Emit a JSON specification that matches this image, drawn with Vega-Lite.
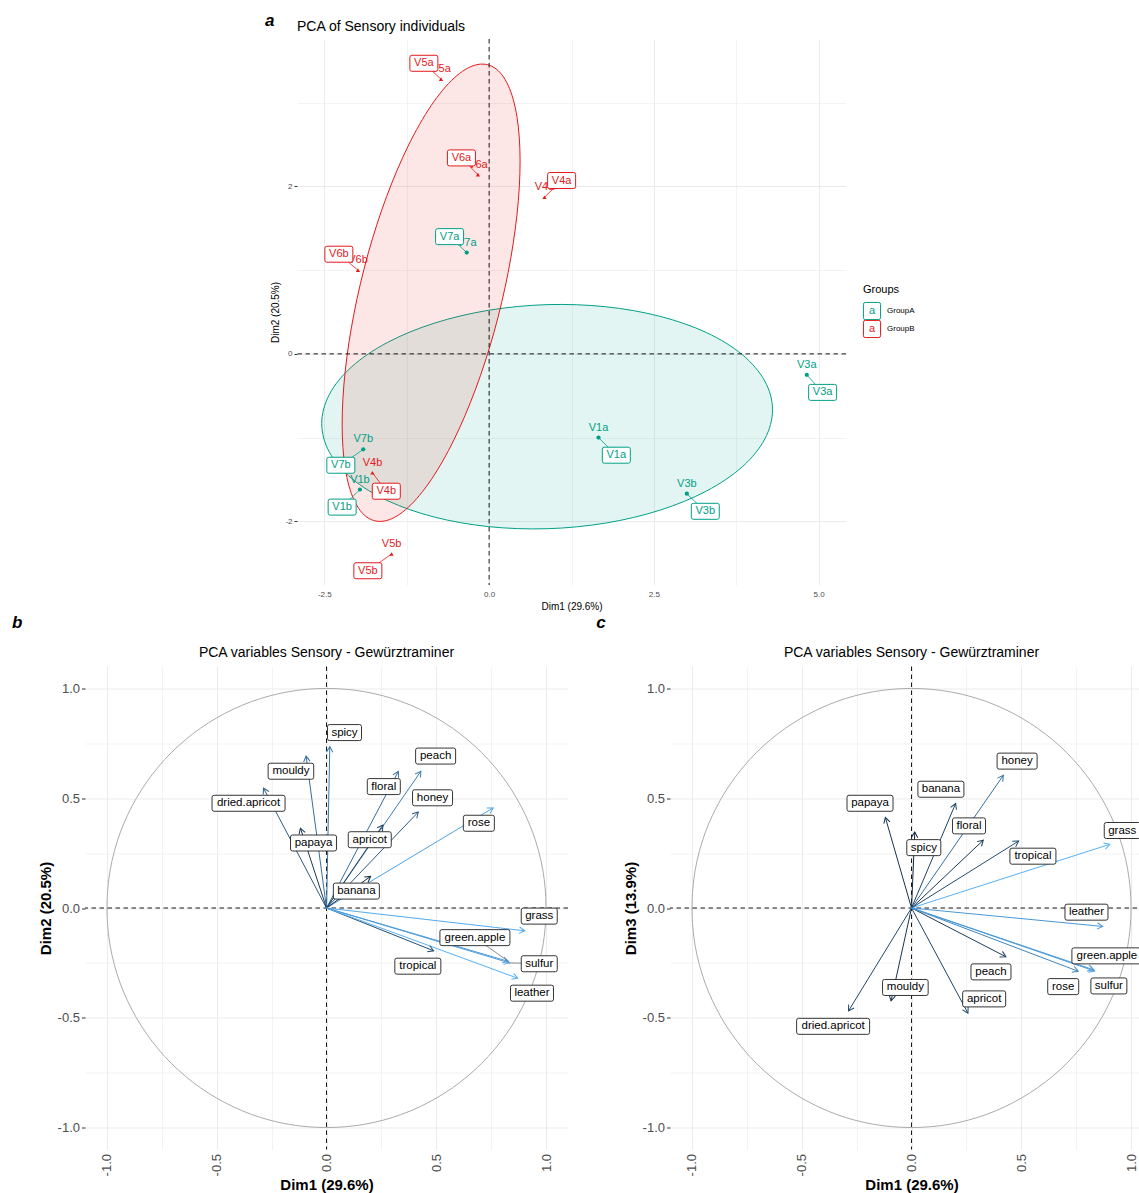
{
  "$schema": "https://vega.github.io/schema/vega-lite/v6.json",
  "background": "white",
  "padding": {"left": 12, "top": 11, "right": 0, "bottom": 0},
  "config": {
    "font": "Liberation Sans",
    "view": {"stroke": null},
    "axis": {"domain": false, "gridColor": "#EBEBEB", "tickColor": "#333333", "labelColor": "#4D4D4D", "titleColor": "#000000", "labelFont": "Liberation Sans", "titleFont": "Liberation Sans"},
    "title": {"font": "Liberation Sans", "color": "#000000", "fontWeight": "normal"}
  },
  "datasets": {
    "individuals": [
      {"name": "V5a", "group": "GroupB", "x": -0.73, "y": 3.28, "lx": -0.99, "ly": 3.47},
      {"name": "V6a", "group": "GroupB", "x": -0.17, "y": 2.14, "lx": -0.42, "ly": 2.34},
      {"name": "V4a", "group": "GroupB", "x": 0.84, "y": 1.87, "lx": 1.10, "ly": 2.07},
      {"name": "V7a", "group": "GroupA", "x": -0.34, "y": 1.21, "lx": -0.60, "ly": 1.40},
      {"name": "V6b", "group": "GroupB", "x": -1.99, "y": 1.00, "lx": -2.28, "ly": 1.19},
      {"name": "V3a", "group": "GroupA", "x": 4.82, "y": -0.25, "lx": 5.06, "ly": -0.46},
      {"name": "V1a", "group": "GroupA", "x": 1.66, "y": -1.00, "lx": 1.93, "ly": -1.21},
      {"name": "V7b", "group": "GroupA", "x": -1.91, "y": -1.14, "lx": -2.25, "ly": -1.33},
      {"name": "V4b", "group": "GroupB", "x": -1.77, "y": -1.42, "lx": -1.56, "ly": -1.64},
      {"name": "V1b", "group": "GroupA", "x": -1.96, "y": -1.62, "lx": -2.23, "ly": -1.83},
      {"name": "V3b", "group": "GroupA", "x": 3.00, "y": -1.67, "lx": 3.28, "ly": -1.88},
      {"name": "V5b", "group": "GroupB", "x": -1.48, "y": -2.39, "lx": -1.84, "ly": -2.59}
    ],
    "groups": [
      {"group": "GroupA"},
      {"group": "GroupB"}
    ],
    "ellipses": [
      {"group": "GroupA", "i": 0, "x": 4.300, "y": -0.668},
      {"group": "GroupA", "i": 1, "x": 4.183, "y": -0.325},
      {"group": "GroupA", "i": 2, "x": 3.842, "y": -0.010},
      {"group": "GroupA", "i": 3, "x": 3.298, "y": 0.254},
      {"group": "GroupA", "i": 4, "x": 2.590, "y": 0.449},
      {"group": "GroupA", "i": 5, "x": 1.765, "y": 0.563},
      {"group": "GroupA", "i": 6, "x": 0.880, "y": 0.588},
      {"group": "GroupA", "i": 7, "x": -0.005, "y": 0.521},
      {"group": "GroupA", "i": 8, "x": -0.830, "y": 0.367},
      {"group": "GroupA", "i": 9, "x": -1.538, "y": 0.138},
      {"group": "GroupA", "i": 10, "x": -2.082, "y": -0.152},
      {"group": "GroupA", "i": 11, "x": -2.423, "y": -0.483},
      {"group": "GroupA", "i": 12, "x": -2.540, "y": -0.832},
      {"group": "GroupA", "i": 13, "x": -2.423, "y": -1.175},
      {"group": "GroupA", "i": 14, "x": -2.082, "y": -1.490},
      {"group": "GroupA", "i": 15, "x": -1.538, "y": -1.754},
      {"group": "GroupA", "i": 16, "x": -0.830, "y": -1.949},
      {"group": "GroupA", "i": 17, "x": -0.005, "y": -2.063},
      {"group": "GroupA", "i": 18, "x": 0.880, "y": -2.088},
      {"group": "GroupA", "i": 19, "x": 1.765, "y": -2.021},
      {"group": "GroupA", "i": 20, "x": 2.590, "y": -1.867},
      {"group": "GroupA", "i": 21, "x": 3.298, "y": -1.638},
      {"group": "GroupA", "i": 22, "x": 3.842, "y": -1.348},
      {"group": "GroupA", "i": 23, "x": 4.183, "y": -1.017},
      {"group": "GroupB", "i": 0, "x": 0.470, "y": 2.300},
      {"group": "GroupB", "i": 1, "x": 0.424, "y": 2.825},
      {"group": "GroupB", "i": 2, "x": 0.289, "y": 3.207},
      {"group": "GroupB", "i": 3, "x": 0.075, "y": 3.420},
      {"group": "GroupB", "i": 4, "x": -0.205, "y": 3.450},
      {"group": "GroupB", "i": 5, "x": -0.531, "y": 3.294},
      {"group": "GroupB", "i": 6, "x": -0.880, "y": 2.964},
      {"group": "GroupB", "i": 7, "x": -1.229, "y": 2.482},
      {"group": "GroupB", "i": 8, "x": -1.555, "y": 1.880},
      {"group": "GroupB", "i": 9, "x": -1.835, "y": 1.200},
      {"group": "GroupB", "i": 10, "x": -2.049, "y": 0.487},
      {"group": "GroupB", "i": 11, "x": -2.184, "y": -0.209},
      {"group": "GroupB", "i": 12, "x": -2.230, "y": -0.840},
      {"group": "GroupB", "i": 13, "x": -2.184, "y": -1.365},
      {"group": "GroupB", "i": 14, "x": -2.049, "y": -1.747},
      {"group": "GroupB", "i": 15, "x": -1.835, "y": -1.960},
      {"group": "GroupB", "i": 16, "x": -1.555, "y": -1.990},
      {"group": "GroupB", "i": 17, "x": -1.229, "y": -1.834},
      {"group": "GroupB", "i": 18, "x": -0.880, "y": -1.504},
      {"group": "GroupB", "i": 19, "x": -0.531, "y": -1.022},
      {"group": "GroupB", "i": 20, "x": -0.205, "y": -0.420},
      {"group": "GroupB", "i": 21, "x": 0.075, "y": 0.260},
      {"group": "GroupB", "i": 22, "x": 0.289, "y": 0.973},
      {"group": "GroupB", "i": 23, "x": 0.424, "y": 1.669}
    ],
    "circle": [
      {"i": 0, "x": 1, "y": 0}, {"i": 1, "x": 0.985, "y": 0.174}, {"i": 2, "x": 0.940, "y": 0.342},
      {"i": 3, "x": 0.866, "y": 0.5}, {"i": 4, "x": 0.766, "y": 0.643}, {"i": 5, "x": 0.643, "y": 0.766},
      {"i": 6, "x": 0.5, "y": 0.866}, {"i": 7, "x": 0.342, "y": 0.940}, {"i": 8, "x": 0.174, "y": 0.985},
      {"i": 9, "x": 0, "y": 1}, {"i": 10, "x": -0.174, "y": 0.985}, {"i": 11, "x": -0.342, "y": 0.940},
      {"i": 12, "x": -0.5, "y": 0.866}, {"i": 13, "x": -0.643, "y": 0.766}, {"i": 14, "x": -0.766, "y": 0.643},
      {"i": 15, "x": -0.866, "y": 0.5}, {"i": 16, "x": -0.940, "y": 0.342}, {"i": 17, "x": -0.985, "y": 0.174},
      {"i": 18, "x": -1, "y": 0}, {"i": 19, "x": -0.985, "y": -0.174}, {"i": 20, "x": -0.940, "y": -0.342},
      {"i": 21, "x": -0.866, "y": -0.5}, {"i": 22, "x": -0.766, "y": -0.643}, {"i": 23, "x": -0.643, "y": -0.766},
      {"i": 24, "x": -0.5, "y": -0.866}, {"i": 25, "x": -0.342, "y": -0.940}, {"i": 26, "x": -0.174, "y": -0.985},
      {"i": 27, "x": 0, "y": -1}, {"i": 28, "x": 0.174, "y": -0.985}, {"i": 29, "x": 0.342, "y": -0.940},
      {"i": 30, "x": 0.5, "y": -0.866}, {"i": 31, "x": 0.643, "y": -0.766}, {"i": 32, "x": 0.766, "y": -0.643},
      {"i": 33, "x": 0.866, "y": -0.5}, {"i": 34, "x": 0.940, "y": -0.342}, {"i": 35, "x": 0.985, "y": -0.174}
    ],
    "dim12": [
      {"var": "spicy", "x": 0.015, "y": 0.735, "lx": 0.082, "ly": 0.799, "contrib": 7.19},
      {"var": "mouldy", "x": -0.093, "y": 0.692, "lx": -0.162, "ly": 0.623, "contrib": 6.48},
      {"var": "dried.apricot", "x": -0.287, "y": 0.546, "lx": -0.355, "ly": 0.477, "contrib": 5.05},
      {"var": "papaya", "x": -0.119, "y": 0.364, "lx": -0.059, "ly": 0.296, "contrib": 1.95},
      {"var": "floral", "x": 0.327, "y": 0.622, "lx": 0.261, "ly": 0.553, "contrib": 6.57},
      {"var": "peach", "x": 0.430, "y": 0.623, "lx": 0.497, "ly": 0.692, "contrib": 7.62},
      {"var": "honey", "x": 0.418, "y": 0.437, "lx": 0.483, "ly": 0.502, "contrib": 4.87},
      {"var": "apricot", "x": 0.257, "y": 0.378, "lx": 0.197, "ly": 0.311, "contrib": 2.79},
      {"var": "rose", "x": 0.759, "y": 0.456, "lx": 0.694, "ly": 0.386, "contrib": 10.45},
      {"var": "banana", "x": 0.201, "y": 0.144, "lx": 0.136, "ly": 0.077, "contrib": 0.81},
      {"var": "grass", "x": 0.903, "y": -0.104, "lx": 0.969, "ly": -0.037, "contrib": 11.0},
      {"var": "green.apple", "x": 0.828, "y": -0.243, "lx": 0.676, "ly": -0.135, "contrib": 9.9},
      {"var": "sulfur", "x": 0.834, "y": -0.250, "lx": 0.969, "ly": -0.254, "contrib": 10.1},
      {"var": "tropical", "x": 0.488, "y": -0.195, "lx": 0.416, "ly": -0.265, "contrib": 3.69},
      {"var": "leather", "x": 0.871, "y": -0.320, "lx": 0.936, "ly": -0.388, "contrib": 11.5}
    ],
    "dim13": [
      {"var": "spicy", "x": 0.015, "y": 0.346, "lx": 0.056, "ly": 0.275, "contrib": 1.82},
      {"var": "mouldy", "x": -0.093, "y": -0.423, "lx": -0.028, "ly": -0.362, "contrib": 2.87},
      {"var": "dried.apricot", "x": -0.287, "y": -0.469, "lx": -0.357, "ly": -0.539, "contrib": 4.64},
      {"var": "papaya", "x": -0.119, "y": 0.412, "lx": -0.189, "ly": 0.477, "contrib": 2.84},
      {"var": "floral", "x": 0.327, "y": 0.309, "lx": 0.262, "ly": 0.374, "contrib": 3.11},
      {"var": "peach", "x": 0.430, "y": -0.222, "lx": 0.362, "ly": -0.291, "contrib": 3.58},
      {"var": "honey", "x": 0.418, "y": 0.604, "lx": 0.481, "ly": 0.669, "contrib": 8.25},
      {"var": "apricot", "x": 0.257, "y": -0.479, "lx": 0.331, "ly": -0.414, "contrib": 4.53},
      {"var": "rose", "x": 0.759, "y": -0.288, "lx": 0.691, "ly": -0.358, "contrib": 10.1},
      {"var": "banana", "x": 0.201, "y": 0.476, "lx": 0.134, "ly": 0.541, "contrib": 4.08},
      {"var": "grass", "x": 0.903, "y": 0.290, "lx": 0.960, "ly": 0.353, "contrib": 13.7},
      {"var": "green.apple", "x": 0.828, "y": -0.281, "lx": 0.890, "ly": -0.218, "contrib": 11.8},
      {"var": "sulfur", "x": 0.834, "y": -0.287, "lx": 0.899, "ly": -0.355, "contrib": 11.8},
      {"var": "tropical", "x": 0.488, "y": 0.305, "lx": 0.553, "ly": 0.236, "contrib": 5.03},
      {"var": "leather", "x": 0.871, "y": -0.084, "lx": 0.797, "ly": -0.019, "contrib": 11.7}
    ]
  },
  "resolve": {"scale": {"x": "independent", "y": "independent", "color": "independent", "shape": "independent", "stroke": "independent"}},
  "spacing": 2.5,
  "vconcat": [
    {
      "spacing": 14,
      "center": true,
      "resolve": {"scale": {"x": "independent", "y": "independent", "color": "independent", "shape": "independent", "stroke": "independent"}},
      "hconcat": [
        {"width": 165, "height": 1, "data": {"values": [{}]}, "mark": {"type": "text", "text": ""}, "encoding": {}},
        {
          "title": {"text": "a", "anchor": "start", "frame": "bounds", "dx": -6, "offset": -23.3, "fontSize": 17, "fontStyle": "italic", "fontWeight": "bold", "baseline": "alphabetic"},
          "hconcat": [
            {
              "width": 549,
              "height": 546,
              "title": {"text": "PCA of Sensory individuals", "anchor": "start", "frame": "group", "fontSize": 14, "baseline": "alphabetic", "offset": 0, "dy": 6},
              "layer": [
                {
                  "data": {"name": "ellipses"},
                  "transform": [{"filter": "datum.group === 'GroupA'"}],
                  "mark": {"type": "line", "interpolate": "cardinal-closed", "stroke": "#00A087", "strokeWidth": 1, "fill": "#00A087", "fillOpacity": 0.11},
                  "encoding": {
                    "x": {"field": "x", "type": "quantitative", "title": "Dim1 (29.6%)",
                      "scale": {"domain": [-2.915, 5.415], "nice": false, "zero": false},
                      "axis": {"values": [-2.5, -1.25, 0, 1.25, 2.5, 3.75, 5], "labelExpr": "datum.value % 2.5 === 0 ? replace(format(datum.value, '.1f'), '\u2212', '-') : ''", "ticks": false, "labelFontSize": 8, "labelPadding": 5, "titleFontSize": 10, "titleFontWeight": "normal", "titlePadding": 3, "labelFlush": false, "labelOverlap": false,
                        "gridWidth": {"condition": {"test": "datum.value % 2.5 !== 0", "value": 0.6}, "value": 1}}},
                    "y": {"field": "y", "type": "quantitative", "title": "Dim2 (20.5%)",
                      "scale": {"domain": [-2.76, 3.76], "nice": false, "zero": false},
                      "axis": {"values": [-2, -1, 0, 1, 2, 3], "labelExpr": "datum.value % 2 === 0 ? replace(format(datum.value, 'd'), '\u2212', '-') : ''", "tickSize": 3, "labelFontSize": 8, "labelPadding": 2, "titleFontSize": 10, "titleFontWeight": "normal", "titlePadding": 4, "labelFlush": false, "labelOverlap": false,
                        "tickOpacity": {"condition": {"test": "datum.value % 2 !== 0", "value": 0}, "value": 1},
                        "gridWidth": {"condition": {"test": "datum.value % 2 !== 0", "value": 0.6}, "value": 1}}},
                    "order": {"field": "i", "type": "quantitative"}
                  }
                },
                {
                  "data": {"name": "ellipses"},
                  "transform": [{"filter": "datum.group === 'GroupB'"}],
                  "mark": {"type": "line", "interpolate": "cardinal-closed", "stroke": "#E31A1C", "strokeWidth": 1, "fill": "#E31A1C", "fillOpacity": 0.11},
                  "encoding": {
                    "x": {"field": "x", "type": "quantitative", "title": "Dim1 (29.6%)"},
                    "y": {"field": "y", "type": "quantitative", "title": "Dim2 (20.5%)"},
                    "order": {"field": "i", "type": "quantitative"}
                  }
                },
                {
                  "data": {"values": [{}]},
                  "mark": {"type": "rule", "color": "#000000", "strokeWidth": 0.9, "strokeDash": [4.5, 3.5]},
                  "encoding": {"x": {"datum": 0, "type": "quantitative"}}
                },
                {
                  "data": {"values": [{}]},
                  "mark": {"type": "rule", "color": "#000000", "strokeWidth": 0.9, "strokeDash": [4.5, 3.5]},
                  "encoding": {"y": {"datum": 0, "type": "quantitative"}}
                },
                {
                  "data": {"name": "individuals"},
                  "mark": {"type": "point", "filled": true, "opacity": 1, "size": 18},
                  "encoding": {
                    "x": {"field": "x", "type": "quantitative", "title": "Dim1 (29.6%)"},
                    "y": {"field": "y", "type": "quantitative", "title": "Dim2 (20.5%)"},
                    "color": {"field": "group", "type": "nominal", "scale": {"domain": ["GroupA", "GroupB"], "range": ["#00A087", "#E31A1C"]}, "legend": null},
                    "shape": {"field": "group", "type": "nominal", "scale": {"domain": ["GroupA", "GroupB"], "range": ["circle", "triangle-up"]}, "legend": null}
                  }
                },
                {
                  "data": {"name": "individuals"},
                  "mark": {"type": "text", "fontSize": 11, "baseline": "middle", "dy": -10},
                  "encoding": {
                    "x": {"field": "x", "type": "quantitative", "title": "Dim1 (29.6%)"},
                    "y": {"field": "y", "type": "quantitative", "title": "Dim2 (20.5%)"},
                    "text": {"field": "name", "type": "nominal"},
                    "color": {"field": "group", "type": "nominal", "legend": null}
                  }
                },
                {
                  "data": {"name": "individuals"},
                  "mark": {"type": "rule", "strokeWidth": 0.8},
                  "encoding": {
                    "x": {"field": "x", "type": "quantitative", "title": "Dim1 (29.6%)"},
                    "y": {"field": "y", "type": "quantitative", "title": "Dim2 (20.5%)"},
                    "x2": {"field": "lx"},
                    "y2": {"field": "ly"},
                    "color": {"field": "group", "type": "nominal", "legend": null}
                  }
                },
                {
                  "data": {"name": "individuals"},
                  "mark": {"type": "point", "shape": "M-1.2,-0.8H1.2Q1.4,-0.8,1.4,-0.6V0.6Q1.4,0.8,1.2,0.8H-1.2Q-1.4,0.8,-1.4,0.6V-0.6Q-1.4,-0.8,-1.2,-0.8Z", "size": 400, "filled": true, "fill": "white", "opacity": 1, "strokeWidth": 1},
                  "encoding": {
                    "x": {"field": "lx", "type": "quantitative", "title": "Dim1 (29.6%)"},
                    "y": {"field": "ly", "type": "quantitative", "title": "Dim2 (20.5%)"},
                    "stroke": {"field": "group", "type": "nominal", "scale": {"domain": ["GroupA", "GroupB"], "range": ["#00A087", "#E31A1C"]}, "legend": null}
                  }
                },
                {
                  "data": {"name": "individuals"},
                  "mark": {"type": "text", "fontSize": 11, "baseline": "middle"},
                  "encoding": {
                    "x": {"field": "lx", "type": "quantitative", "title": "Dim1 (29.6%)"},
                    "y": {"field": "ly", "type": "quantitative", "title": "Dim2 (20.5%)"},
                    "text": {"field": "name", "type": "nominal"},
                    "color": {"field": "group", "type": "nominal", "legend": null}
                  }
                }
              ]
            }
          ]
        },
        {
          "width": 18,
          "height": 54,
          "title": {"text": "Groups", "anchor": "start", "frame": "group", "fontSize": 11, "baseline": "alphabetic", "offset": 0, "dy": 6},
          "data": {"name": "groups"},
          "encoding": {"y": {"field": "group", "type": "nominal", "axis": null, "scale": {"range": [4, 40]}}},
          "layer": [
            {
              "mark": {"type": "point", "shape": "M-0.75,-0.95H0.75Q0.95,-0.95,0.95,-0.75V0.75Q0.95,0.95,0.75,0.95H-0.75Q-0.95,0.95,-0.95,0.75V-0.75Q-0.95,-0.95,-0.75,-0.95Z", "size": 324, "filled": true, "fill": "white", "strokeWidth": 1, "opacity": 1},
              "encoding": {"stroke": {"field": "group", "type": "nominal", "scale": {"domain": ["GroupA", "GroupB"], "range": ["#00A087", "#E31A1C"]}, "legend": null}}
            },
            {
              "mark": {"type": "text", "text": "a", "fontSize": 11, "baseline": "middle"},
              "encoding": {"color": {"field": "group", "type": "nominal", "scale": {"domain": ["GroupA", "GroupB"], "range": ["#00A087", "#E31A1C"]}, "legend": null}}
            },
            {
              "mark": {"type": "text", "fontSize": 8, "align": "left", "baseline": "middle", "dx": 15, "color": "#000000"},
              "encoding": {"text": {"field": "group", "type": "nominal"}}
            }
          ]
        }
      ]
    },
    {
      "spacing": 27,
      "resolve": {"scale": {"x": "independent", "y": "independent", "color": "independent", "shape": "independent", "stroke": "independent"}},
      "hconcat": [
        {
          "title": {"text": "b", "anchor": "start", "frame": "bounds", "dx": -26, "offset": 0.5, "fontSize": 17, "fontStyle": "italic", "fontWeight": "bold", "baseline": "alphabetic"},
          "hconcat": [
            {
              "width": 483,
              "height": 483,
              "title": {"text": "PCA variables Sensory - Gewürztraminer", "anchor": "middle", "frame": "group", "fontSize": 14, "baseline": "alphabetic", "offset": 0, "dy": 4.5},
              "layer": [
                {
                  "data": {"name": "circle"},
                  "mark": {"type": "line", "interpolate": "cardinal-closed", "stroke": "#ABABAB", "strokeWidth": 1},
                  "encoding": {
                    "x": {"field": "x", "type": "quantitative", "title": "Dim1 (29.6%)",
                      "scale": {"domain": [-1.1, 1.1], "nice": false, "zero": false},
                      "axis": {"values": [-1, -0.75, -0.5, -0.25, 0, 0.25, 0.5, 0.75, 1], "labelExpr": "(datum.value * 2) % 1 === 0 ? replace(format(datum.value, '.1f'), '\u2212', '-') : ''", "labelAngle": 270, "ticks": false, "labelPadding": 4, "labelFontSize": 13, "titleFontSize": 15, "titleFontWeight": "bold", "titlePadding": 2, "labelFlush": false, "labelOverlap": false,
                        "gridWidth": {"condition": {"test": "(datum.value * 2) % 1 !== 0", "value": 0.6}, "value": 1}}},
                    "y": {"field": "y", "type": "quantitative", "title": "Dim2 (20.5%)",
                      "scale": {"domain": [-1.1, 1.1], "nice": false, "zero": false},
                      "axis": {"values": [-1, -0.75, -0.5, -0.25, 0, 0.25, 0.5, 0.75, 1], "labelExpr": "(datum.value * 2) % 1 === 0 ? replace(format(datum.value, '.1f'), '\u2212', '-') : ''", "tickSize": 3.5, "labelPadding": 2, "labelFontSize": 13, "titleFontSize": 15, "titleFontWeight": "bold", "titlePadding": 4, "labelFlush": false, "labelOverlap": false,
                        "tickOpacity": {"condition": {"test": "(datum.value * 2) % 1 !== 0", "value": 0}, "value": 1},
                        "gridWidth": {"condition": {"test": "(datum.value * 2) % 1 !== 0", "value": 0.6}, "value": 1}}},
                    "order": {"field": "i", "type": "quantitative"}
                  }
                },
                {
                  "data": {"values": [{}]},
                  "mark": {"type": "rule", "color": "#000000", "strokeWidth": 0.9, "strokeDash": [4.5, 3.5]},
                  "encoding": {"x": {"datum": 0, "type": "quantitative"}}
                },
                {
                  "data": {"values": [{}]},
                  "mark": {"type": "rule", "color": "#000000", "strokeWidth": 0.9, "strokeDash": [4.5, 3.5]},
                  "encoding": {"y": {"datum": 0, "type": "quantitative"}}
                },
                {
                  "data": {"name": "dim12"},
                  "mark": {"type": "rule", "strokeWidth": 1},
                  "encoding": {
                    "x": {"field": "x", "type": "quantitative", "title": "Dim1 (29.6%)"},
                    "y": {"field": "y", "type": "quantitative", "title": "Dim2 (20.5%)"},
                    "x2": {"datum": 0},
                    "y2": {"datum": 0},
                    "color": {"field": "contrib", "type": "quantitative", "scale": {"range": ["#132B43", "#56B1F7"], "interpolate": "lab", "zero": false, "nice": false}, "legend": null}
                  }
                },
                {
                  "data": {"name": "dim12"},
                  "transform": [{"calculate": "90 - atan2(datum.y, datum.x) * 180 / PI", "as": "heading"}],
                  "mark": {"type": "point", "shape": "M-0.32,0.55L0,0L0.32,0.55", "size": 400, "filled": false, "strokeWidth": 1, "opacity": 1},
                  "encoding": {
                    "x": {"field": "x", "type": "quantitative", "title": "Dim1 (29.6%)"},
                    "y": {"field": "y", "type": "quantitative", "title": "Dim2 (20.5%)"},
                    "angle": {"field": "heading", "type": "quantitative", "scale": null},
                    "color": {"field": "contrib", "type": "quantitative", "legend": null}
                  }
                },
                {
                  "data": {"name": "dim12"},
                  "transform": [{"filter": {"field": "var", "oneOf": ["green.apple", "sulfur"]}}],
                  "mark": {"type": "rule", "strokeWidth": 0.8, "color": "#6E6E6E"},
                  "encoding": {
                    "x": {"field": "x", "type": "quantitative", "title": "Dim1 (29.6%)"},
                    "y": {"field": "y", "type": "quantitative", "title": "Dim2 (20.5%)"},
                    "x2": {"field": "lx"},
                    "y2": {"field": "ly"}
                  }
                },
                {
                  "data": {"name": "dim12"},
                  "mark": {"type": "point", "size": 400, "filled": true, "fill": "white", "stroke": "#1F1F1F", "strokeWidth": 0.9, "opacity": 1},
                  "encoding": {
                    "x": {"field": "lx", "type": "quantitative", "title": "Dim1 (29.6%)"},
                    "y": {"field": "ly", "type": "quantitative", "title": "Dim2 (20.5%)"},
                    "shape": {"field": "var", "type": "nominal", "legend": null,
                      "scale": {
                        "domain": ["spicy", "mouldy", "dried.apricot", "papaya", "floral", "peach", "honey", "apricot", "rose", "banana", "grass", "green.apple", "sulfur", "tropical", "leather"],
                        "range": [
                          "M-1.5,-0.8H1.5Q1.7,-0.8,1.7,-0.6V0.6Q1.7,0.8,1.5,0.8H-1.5Q-1.7,0.8,-1.7,0.6V-0.6Q-1.7,-0.8,-1.5,-0.8Z",
                          "M-2.08,-0.8H2.08Q2.28,-0.8,2.28,-0.6V0.6Q2.28,0.8,2.08,0.8H-2.08Q-2.28,0.8,-2.28,0.6V-0.6Q-2.28,-0.8,-2.08,-0.8Z",
                          "M-3.45,-0.8H3.45Q3.65,-0.8,3.65,-0.6V0.6Q3.65,0.8,3.45,0.8H-3.45Q-3.65,0.8,-3.65,0.6V-0.6Q-3.65,-0.8,-3.45,-0.8Z",
                          "M-2.1,-0.8H2.1Q2.3,-0.8,2.3,-0.6V0.6Q2.3,0.8,2.1,0.8H-2.1Q-2.3,0.8,-2.3,0.6V-0.6Q-2.3,-0.8,-2.1,-0.8Z",
                          "M-1.45,-0.8H1.45Q1.65,-0.8,1.65,-0.6V0.6Q1.65,0.8,1.45,0.8H-1.45Q-1.65,0.8,-1.65,0.6V-0.6Q-1.65,-0.8,-1.45,-0.8Z",
                          "M-1.8,-0.8H1.8Q2.0,-0.8,2.0,-0.6V0.6Q2.0,0.8,1.8,0.8H-1.8Q-2.0,0.8,-2.0,0.6V-0.6Q-2.0,-0.8,-1.8,-0.8Z",
                          "M-1.8,-0.8H1.8Q2.0,-0.8,2.0,-0.6V0.6Q2.0,0.8,1.8,0.8H-1.8Q-2.0,0.8,-2.0,0.6V-0.6Q-2.0,-0.8,-1.8,-0.8Z",
                          "M-1.95,-0.8H1.95Q2.15,-0.8,2.15,-0.6V0.6Q2.15,0.8,1.95,0.8H-1.95Q-2.15,0.8,-2.15,0.6V-0.6Q-2.15,-0.8,-1.95,-0.8Z",
                          "M-1.35,-0.8H1.35Q1.55,-0.8,1.55,-0.6V0.6Q1.55,0.8,1.35,0.8H-1.35Q-1.55,0.8,-1.55,0.6V-0.6Q-1.55,-0.8,-1.35,-0.8Z",
                          "M-2.1,-0.8H2.1Q2.3,-0.8,2.3,-0.6V0.6Q2.3,0.8,2.1,0.8H-2.1Q-2.3,0.8,-2.3,0.6V-0.6Q-2.3,-0.8,-2.1,-0.8Z",
                          "M-1.6,-0.8H1.6Q1.8,-0.8,1.8,-0.6V0.6Q1.8,0.8,1.6,0.8H-1.6Q-1.8,0.8,-1.8,0.6V-0.6Q-1.8,-0.8,-1.6,-0.8Z",
                          "M-3.3,-0.8H3.3Q3.5,-0.8,3.5,-0.6V0.6Q3.5,0.8,3.3,0.8H-3.3Q-3.5,0.8,-3.5,0.6V-0.6Q-3.5,-0.8,-3.3,-0.8Z",
                          "M-1.6,-0.8H1.6Q1.8,-0.8,1.8,-0.6V0.6Q1.8,0.8,1.6,0.8H-1.6Q-1.8,0.8,-1.8,0.6V-0.6Q-1.8,-0.8,-1.6,-0.8Z",
                          "M-2.1,-0.8H2.1Q2.3,-0.8,2.3,-0.6V0.6Q2.3,0.8,2.1,0.8H-2.1Q-2.3,0.8,-2.3,0.6V-0.6Q-2.3,-0.8,-2.1,-0.8Z",
                          "M-1.95,-0.8H1.95Q2.15,-0.8,2.15,-0.6V0.6Q2.15,0.8,1.95,0.8H-1.95Q-2.15,0.8,-2.15,0.6V-0.6Q-2.15,-0.8,-1.95,-0.8Z"
                        ]
                      }
                    }
                  }
                },
                {
                  "data": {"name": "dim12"},
                  "mark": {"type": "text", "fontSize": 11.5, "baseline": "middle", "color": "#000000"},
                  "encoding": {
                    "x": {"field": "lx", "type": "quantitative", "title": "Dim1 (29.6%)"},
                    "y": {"field": "ly", "type": "quantitative", "title": "Dim2 (20.5%)"},
                    "text": {"field": "var", "type": "nominal"}
                  }
                }
              ]
            }
          ]
        },
        {
          "title": {"text": "c", "anchor": "start", "frame": "bounds", "dx": -26.8, "offset": 0.5, "fontSize": 17, "fontStyle": "italic", "fontWeight": "bold", "baseline": "alphabetic"},
          "hconcat": [
            {
              "width": 483,
              "height": 483,
              "title": {"text": "PCA variables Sensory - Gewürztraminer", "anchor": "middle", "frame": "group", "fontSize": 14, "baseline": "alphabetic", "offset": 0, "dy": 4.5},
              "layer": [
                {
                  "data": {"name": "circle"},
                  "mark": {"type": "line", "interpolate": "cardinal-closed", "stroke": "#ABABAB", "strokeWidth": 1},
                  "encoding": {
                    "x": {"field": "x", "type": "quantitative", "title": "Dim1 (29.6%)",
                      "scale": {"domain": [-1.1, 1.1], "nice": false, "zero": false},
                      "axis": {"values": [-1, -0.75, -0.5, -0.25, 0, 0.25, 0.5, 0.75, 1], "labelExpr": "(datum.value * 2) % 1 === 0 ? replace(format(datum.value, '.1f'), '\u2212', '-') : ''", "labelAngle": 270, "ticks": false, "labelPadding": 4, "labelFontSize": 13, "titleFontSize": 15, "titleFontWeight": "bold", "titlePadding": 2, "labelFlush": false, "labelOverlap": false,
                        "gridWidth": {"condition": {"test": "(datum.value * 2) % 1 !== 0", "value": 0.6}, "value": 1}}},
                    "y": {"field": "y", "type": "quantitative", "title": "Dim3 (13.9%)",
                      "scale": {"domain": [-1.1, 1.1], "nice": false, "zero": false},
                      "axis": {"values": [-1, -0.75, -0.5, -0.25, 0, 0.25, 0.5, 0.75, 1], "labelExpr": "(datum.value * 2) % 1 === 0 ? replace(format(datum.value, '.1f'), '\u2212', '-') : ''", "tickSize": 3.5, "labelPadding": 2, "labelFontSize": 13, "titleFontSize": 15, "titleFontWeight": "bold", "titlePadding": 4, "labelFlush": false, "labelOverlap": false,
                        "tickOpacity": {"condition": {"test": "(datum.value * 2) % 1 !== 0", "value": 0}, "value": 1},
                        "gridWidth": {"condition": {"test": "(datum.value * 2) % 1 !== 0", "value": 0.6}, "value": 1}}},
                    "order": {"field": "i", "type": "quantitative"}
                  }
                },
                {
                  "data": {"values": [{}]},
                  "mark": {"type": "rule", "color": "#000000", "strokeWidth": 0.9, "strokeDash": [4.5, 3.5]},
                  "encoding": {"x": {"datum": 0, "type": "quantitative"}}
                },
                {
                  "data": {"values": [{}]},
                  "mark": {"type": "rule", "color": "#000000", "strokeWidth": 0.9, "strokeDash": [4.5, 3.5]},
                  "encoding": {"y": {"datum": 0, "type": "quantitative"}}
                },
                {
                  "data": {"name": "dim13"},
                  "mark": {"type": "rule", "strokeWidth": 1},
                  "encoding": {
                    "x": {"field": "x", "type": "quantitative", "title": "Dim1 (29.6%)"},
                    "y": {"field": "y", "type": "quantitative", "title": "Dim3 (13.9%)"},
                    "x2": {"datum": 0},
                    "y2": {"datum": 0},
                    "color": {"field": "contrib", "type": "quantitative", "scale": {"range": ["#132B43", "#56B1F7"], "interpolate": "lab", "zero": false, "nice": false}, "legend": null}
                  }
                },
                {
                  "data": {"name": "dim13"},
                  "transform": [{"calculate": "90 - atan2(datum.y, datum.x) * 180 / PI", "as": "heading"}],
                  "mark": {"type": "point", "shape": "M-0.32,0.55L0,0L0.32,0.55", "size": 400, "filled": false, "strokeWidth": 1, "opacity": 1},
                  "encoding": {
                    "x": {"field": "x", "type": "quantitative", "title": "Dim1 (29.6%)"},
                    "y": {"field": "y", "type": "quantitative", "title": "Dim3 (13.9%)"},
                    "angle": {"field": "heading", "type": "quantitative", "scale": null},
                    "color": {"field": "contrib", "type": "quantitative", "legend": null}
                  }
                },
                {
                  "data": {"name": "dim13"},
                  "mark": {"type": "point", "size": 400, "filled": true, "fill": "white", "stroke": "#1F1F1F", "strokeWidth": 0.9, "opacity": 1},
                  "encoding": {
                    "x": {"field": "lx", "type": "quantitative", "title": "Dim1 (29.6%)"},
                    "y": {"field": "ly", "type": "quantitative", "title": "Dim3 (13.9%)"},
                    "shape": {"field": "var", "type": "nominal", "legend": null,
                      "scale": {
                        "domain": ["spicy", "mouldy", "dried.apricot", "papaya", "floral", "peach", "honey", "apricot", "rose", "banana", "grass", "green.apple", "sulfur", "tropical", "leather"],
                        "range": [
                          "M-1.5,-0.8H1.5Q1.7,-0.8,1.7,-0.6V0.6Q1.7,0.8,1.5,0.8H-1.5Q-1.7,0.8,-1.7,0.6V-0.6Q-1.7,-0.8,-1.5,-0.8Z",
                          "M-2.08,-0.8H2.08Q2.28,-0.8,2.28,-0.6V0.6Q2.28,0.8,2.08,0.8H-2.08Q-2.28,0.8,-2.28,0.6V-0.6Q-2.28,-0.8,-2.08,-0.8Z",
                          "M-3.45,-0.8H3.45Q3.65,-0.8,3.65,-0.6V0.6Q3.65,0.8,3.45,0.8H-3.45Q-3.65,0.8,-3.65,0.6V-0.6Q-3.65,-0.8,-3.45,-0.8Z",
                          "M-2.1,-0.8H2.1Q2.3,-0.8,2.3,-0.6V0.6Q2.3,0.8,2.1,0.8H-2.1Q-2.3,0.8,-2.3,0.6V-0.6Q-2.3,-0.8,-2.1,-0.8Z",
                          "M-1.45,-0.8H1.45Q1.65,-0.8,1.65,-0.6V0.6Q1.65,0.8,1.45,0.8H-1.45Q-1.65,0.8,-1.65,0.6V-0.6Q-1.65,-0.8,-1.45,-0.8Z",
                          "M-1.8,-0.8H1.8Q2.0,-0.8,2.0,-0.6V0.6Q2.0,0.8,1.8,0.8H-1.8Q-2.0,0.8,-2.0,0.6V-0.6Q-2.0,-0.8,-1.8,-0.8Z",
                          "M-1.8,-0.8H1.8Q2.0,-0.8,2.0,-0.6V0.6Q2.0,0.8,1.8,0.8H-1.8Q-2.0,0.8,-2.0,0.6V-0.6Q-2.0,-0.8,-1.8,-0.8Z",
                          "M-1.95,-0.8H1.95Q2.15,-0.8,2.15,-0.6V0.6Q2.15,0.8,1.95,0.8H-1.95Q-2.15,0.8,-2.15,0.6V-0.6Q-2.15,-0.8,-1.95,-0.8Z",
                          "M-1.35,-0.8H1.35Q1.55,-0.8,1.55,-0.6V0.6Q1.55,0.8,1.35,0.8H-1.35Q-1.55,0.8,-1.55,0.6V-0.6Q-1.55,-0.8,-1.35,-0.8Z",
                          "M-2.1,-0.8H2.1Q2.3,-0.8,2.3,-0.6V0.6Q2.3,0.8,2.1,0.8H-2.1Q-2.3,0.8,-2.3,0.6V-0.6Q-2.3,-0.8,-2.1,-0.8Z",
                          "M-1.6,-0.8H1.6Q1.8,-0.8,1.8,-0.6V0.6Q1.8,0.8,1.6,0.8H-1.6Q-1.8,0.8,-1.8,0.6V-0.6Q-1.8,-0.8,-1.6,-0.8Z",
                          "M-3.3,-0.8H3.3Q3.5,-0.8,3.5,-0.6V0.6Q3.5,0.8,3.3,0.8H-3.3Q-3.5,0.8,-3.5,0.6V-0.6Q-3.5,-0.8,-3.3,-0.8Z",
                          "M-1.6,-0.8H1.6Q1.8,-0.8,1.8,-0.6V0.6Q1.8,0.8,1.6,0.8H-1.6Q-1.8,0.8,-1.8,0.6V-0.6Q-1.8,-0.8,-1.6,-0.8Z",
                          "M-2.1,-0.8H2.1Q2.3,-0.8,2.3,-0.6V0.6Q2.3,0.8,2.1,0.8H-2.1Q-2.3,0.8,-2.3,0.6V-0.6Q-2.3,-0.8,-2.1,-0.8Z",
                          "M-1.95,-0.8H1.95Q2.15,-0.8,2.15,-0.6V0.6Q2.15,0.8,1.95,0.8H-1.95Q-2.15,0.8,-2.15,0.6V-0.6Q-2.15,-0.8,-1.95,-0.8Z"
                        ]
                      }
                    }
                  }
                },
                {
                  "data": {"name": "dim13"},
                  "mark": {"type": "text", "fontSize": 11.5, "baseline": "middle", "color": "#000000"},
                  "encoding": {
                    "x": {"field": "lx", "type": "quantitative", "title": "Dim1 (29.6%)"},
                    "y": {"field": "ly", "type": "quantitative", "title": "Dim3 (13.9%)"},
                    "text": {"field": "var", "type": "nominal"}
                  }
                }
              ]
            }
          ]
        }
      ]
    }
  ]
}
